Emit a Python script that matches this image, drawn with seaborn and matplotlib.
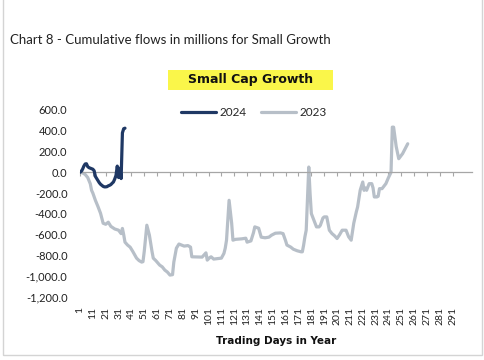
import numpy as np
import pandas as pd
import matplotlib.pyplot as plt
import seaborn as sns
from matplotlib.patches import Rectangle
from matplotlib.lines import Line2D

# --------------------
# Data
# --------------------
days_2024 = list(range(1, 37))
flows_2024 = [0, 10, 30, 60, 80, 83, 55, 45, 40, 35, 30, 15, -40, -60, -80, -100,
              -115, -125, -135, -140, -140, -138, -130, -125, -118, -105, -93, -65,
              -30, 60, -50, 40, -60, 380, 420, 425]

days_2023 = [1, 3, 5, 7, 9, 10, 11, 13, 15, 17, 19, 21, 23, 25, 26, 28, 31, 33, 34, 35,
             36, 38, 40, 42, 45, 47, 49, 50, 51, 53, 55, 57, 58, 60, 63, 65, 67, 69, 71, 73,
             74, 76, 78, 80, 82, 85, 87, 88, 92, 96, 99, 100, 102, 103, 105, 108, 111, 113, 114, 115,
             117, 119, 120, 122, 124, 127, 130, 131, 134, 136, 137, 140, 142, 145, 148, 150, 153, 155, 157, 159,
             161, 162, 165, 167, 170, 173, 174, 175, 176, 177, 179, 180, 181, 183, 185, 187, 188, 190, 191, 193,
             195, 197, 199, 201, 203, 205, 208, 210, 212, 214, 216, 217, 219, 221, 222, 223, 224, 226, 228, 229,
             230, 232, 233, 234, 236, 239, 241, 243, 244, 245, 247, 249, 252, 256]
flows_2023 = [0, -5, -20, -50, -110, -173, -200, -270, -330, -395, -490, -500, -480, -520, -528, -545, -557, -590, -540, -600,
              -672, -700, -720, -760, -826, -850, -864, -860, -760, -509, -605, -760, -826, -850, -893, -910, -941, -960, -989, -985,
              -864, -730, -690, -700, -710, -705, -720, -813, -815, -816, -775, -845, -820, -813, -835, -830, -826, -780, -730, -653,
              -269, -490, -653, -645, -643, -640, -634, -672, -660, -580, -525, -538, -624, -630, -624, -605, -586, -585, -583, -590,
              -660, -700, -720, -740, -755, -765, -765, -700, -620, -557, 51, -200, -397, -460, -525, -525, -510, -440, -429, -429,
              -557, -589, -610, -637, -600, -557, -557, -620, -653, -490, -380, -333, -173, -93, -173, -150, -173, -109, -109, -150,
              -237, -237, -230, -157, -157, -109, -51, 0, 435, 435, 250, 131, 180, 275]

x_ticks = list(range(1, 300, 10))
y_ticks = [600, 400, 200, 0, -200, -400, -600, -800, -1000, -1200]

NAVY = "#1F3864"
GREY = "#B7BFC8"

# --------------------
# Plot
# --------------------
sns.set_theme(style="white")
plt.rcParams["font.family"] = ["Lato", "DejaVu Sans"]

W, H = 485, 360
fig = plt.figure(figsize=(W / 100, H / 100), dpi=100)
ax = fig.add_axes([80 / W, 1 - 297 / H, 392 / W, 187 / H])

df23 = pd.DataFrame({"day": days_2023, "flow": flows_2023})
df24 = pd.DataFrame({"day": days_2024, "flow": flows_2024})
sns.lineplot(data=df23, x="day", y="flow", ax=ax, color=GREY, linewidth=2.3, zorder=2)
sns.lineplot(data=df24, x="day", y="flow", ax=ax, color=NAVY, linewidth=2.3, zorder=3)

ax.set_xlim(1, 306)
ax.set_ylim(-1200, 600)
ax.set_xlabel("")
ax.set_ylabel("")

# y axis: labels only
ax.set_yticks(y_ticks)
ax.set_yticklabels([f"{v:,.1f}" for v in y_ticks])
ax.tick_params(axis="y", length=0, pad=9, labelsize=8, labelcolor="#222222")
for s in ["left", "right", "top"]:
    ax.spines[s].set_visible(False)

# category axis crossing at zero with tick marks
ax.spines["bottom"].set_position(("data", 0))
ax.spines["bottom"].set_color("#A6A6A6")
ax.spines["bottom"].set_linewidth(0.9)
ax.set_xticks(x_ticks)
ax.tick_params(axis="x", direction="out", length=3, width=0.8, color="#A6A6A6",
               labelbottom=False, bottom=True)

# tick labels sit at the bottom of the plot area
sec = ax.secondary_xaxis("bottom")
sec.set_xticks(x_ticks)
sec.set_xticklabels([str(t) for t in x_ticks], rotation=90)
sec.tick_params(axis="x", length=0, pad=7, labelsize=7.5, labelcolor="#222222")
sec.spines["bottom"].set_visible(False)

# legend
handles = [Line2D([], [], color=NAVY, lw=2.3), Line2D([], [], color=GREY, lw=2.3)]
fig.legend(handles, ["2024", "2023"], loc="center", bbox_to_anchor=(254 / W, 1 - 113 / H),
           ncol=2, frameon=False, fontsize=8.5, handlelength=3.0, columnspacing=1.2,
           handletextpad=0.3)

# titles
fig.text(10 / W, 1 - 40 / H, "Chart 8 - Cumulative flows in millions for Small Growth",
         fontsize=9.5, ha="left", va="center", color="#222222")
fig.patches.append(Rectangle((168 / W, 1 - 90 / H), 165 / W, 20 / H,
                             transform=fig.transFigure, facecolor="#FAF64A",
                             edgecolor="none", zorder=0))
fig.text(251 / W, 1 - 80 / H, "Small Cap Growth", fontsize=9, fontweight="bold",
         family="DejaVu Sans", ha="center", va="center", color="#111111")
fig.text(276 / W, 1 - 341 / H, "Trading Days in Year", fontsize=7.5, fontweight="bold",
         family="DejaVu Sans", ha="center", va="center", color="#111111")

# outer frame
fig.patches.append(Rectangle((3 / W, 1 - 355 / H), 479 / W, 360 / H,
                             transform=fig.transFigure, facecolor="none",
                             edgecolor="#D4D4D4", linewidth=1.0, zorder=0))

fig.savefig("out.png", dpi=100)
